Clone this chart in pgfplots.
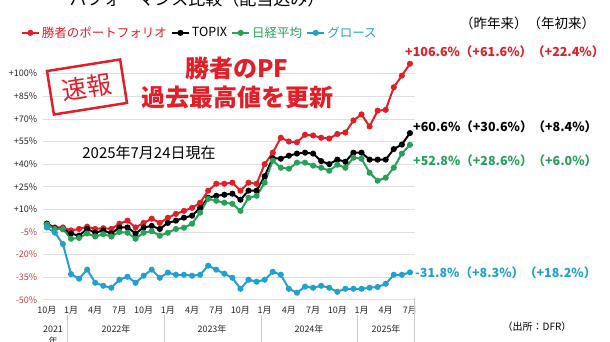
\documentclass[border=0pt]{standalone}
\usepackage{fontspec}
\setmainfont{Noto Sans CJK JP}
\usepackage{pgfplots}
\pgfplotsset{compat=1.18}
\usepackage{pgfplotstable}
\definecolor{pfred}{RGB}{226,30,40}
\definecolor{nkgreen}{RGB}{40,160,90}
\definecolor{grcyan}{RGB}{35,160,210}
\definecolor{negred}{RGB}{200,60,60}
\pgfplotstableread{
i R K G B
0 0.5 0.5 0 -2
1 -2 -2.5 -3 -5.5
2 -2 -3 -3 -13
3 -4 -6 -9.5 -33
4 -3 -7.5 -9 -36
5 -1.5 -3 -6 -30
6 -3 -5.5 -8 -38.7
7 -2.5 -4 -6.5 -40.7
8 -3 -6 -8 -42
9 0.5 -2 -5 -36.7
10 2.5 -2 -5.5 -34.7
11 -2 -6 -9.5 -38.7
12 1 -2 -5.5 -34
13 3.8 -1 -4.5 -30
14 1 -3 -7.5 -35.4
15 4.4 1 -5.5 -32
16 7 2.5 -3 -33.4
17 9 4.5 -2.2 -33.4
18 11 5.8 0.5 -34
19 14.4 11 7.8 -33.4
20 22.4 17.7 17 -27.4
21 27 19 15.7 -30
22 27 19.7 14.4 -32.7
23 27.7 20.4 13.7 -35.4
24 22.4 16.4 9 -42.7
25 27.7 22.4 17.7 -36.7
26 27 22.4 19 -38
27 40 32 27.7 -36.7
28 47.6 44 42.3 -31.4
29 57.5 43.6 37.6 -33.4
30 55 45.6 37 -42.7
31 54.5 47 41 -45.3
32 59.5 47.6 41 -41.3
33 59 47 39 -42
34 57.5 42 37.6 -40.7
35 57 40 35.6 -42
36 60 43 39.6 -44.7
37 61 41.6 37.6 -42.7
38 69 47.6 44.3 -42.7
39 73 47.6 43.6 -42.7
40 65 43 34.3 -42
41 75.5 43 29 -41.5
42 76 43 31 -39.4
43 91 50 37.6 -33.4
44 98.7 53 47 -33.4
45 106.6 60.6 52.8 -31.8
}\datatable
\begin{document}
\begin{tikzpicture}[x=1pt,y=1pt]
\useasboundingbox (0,0) rectangle (610,342);
\begin{axis}[
  at={(53,26)}, anchor=south west, scale only axis,
  width=372pt, height=247.2pt,
  xmin=-0.5, xmax=45.6, ymin=-52, ymax=112,
  axis line style={draw=none}, tick style={draw=none},
  ymajorgrids, grid style={gray!25, line width=0.8pt},
  ytick={-50,-35,-20,-5,10,25,40,55,70,85,100},
  yticklabels={\textcolor{negred}{-50\%},\textcolor{negred}{-35\%},\textcolor{negred}{-20\%},\textcolor{negred}{-5\%},+10\%,+25\%,+40\%,+55\%,+70\%,+85\%,+100\%},
  xtick={0,3,...,45},
  xticklabels={10月,1月,4月,7月,10月,1月,4月,7月,10月,1月,4月,7月,10月,1月,4月,7月},
  ticklabel style={font=\fontsize{9}{10}\selectfont, text=black!85},
  yticklabel style={xshift=-2pt},
  clip=false,
  legend style={at={(axis description cs:0.422,1.092)}, anchor=center, draw=none, fill=none,
    font=\fontsize{12.5}{13}\selectfont, /tikz/every even column/.append style={column sep=2pt}},
  legend columns=-1,
  every axis plot/.append style={line width=2pt, mark=*, mark size=2pt},
]
\addplot[pfred, mark options={fill=pfred}] table[x=i,y=R]{\datatable};
\addlegendentry{\textcolor{pfred}{勝者のポートフォリオ}}
\addplot[black, mark options={fill=black}] table[x=i,y=K]{\datatable};
\addlegendentry{TOPIX}
\addplot[nkgreen, mark options={fill=nkgreen}] table[x=i,y=G]{\datatable};
\addlegendentry{\textcolor{nkgreen}{日経平均}}
\addplot[grcyan, mark options={fill=grcyan}] table[x=i,y=B]{\datatable};
\addlegendentry{\textcolor{grcyan}{グロース}}
\end{axis}
% x axis category separators
\draw[gray!40, line width=0.6pt] (67.2,27) -- (67.2,0);
\draw[gray!40, line width=0.6pt] (164,27) -- (164,0);
\draw[gray!40, line width=0.6pt] (261,27) -- (261,0);
\draw[gray!40, line width=0.6pt] (357.7,27) -- (357.7,0);
\draw[gray!40, line width=0.6pt] (414,44) -- (414,0);
\begin{scope}[every node/.style={font=\fontsize{9}{10}\selectfont, text=black!85}]
\node at (53,13) {2021};
\node at (53,1) {年};
\node at (116,13) {2022年};
\node at (212,13) {2023年};
\node at (309,13) {2024年};
\node at (386,13) {2025年};
\end{scope}
% title (partly cut off at top)
\node[font=\fontsize{17}{17}\selectfont, anchor=base] at (197,336) {パフォーマンス比較（配当込み）};
\node[font=\fontsize{13.5}{14}\selectfont, anchor=west, inner sep=0] at (460,319) {（昨年来）（年初来）};
\node[pfred, font=\bfseries\fontsize{12.5}{13}\selectfont, anchor=west, inner sep=0] at (405,290) {+106.6\%（+61.6\%）（+22.4\%）};
\node[black, font=\bfseries\fontsize{12.5}{13}\selectfont, anchor=west, inner sep=0] at (413,215) {+60.6\%（+30.6\%）（+8.4\%）};
\node[nkgreen, font=\bfseries\fontsize{12.5}{13}\selectfont, anchor=west, inner sep=0] at (413,181) {+52.8\%（+28.6\%）（+6.0\%）};
\node[grcyan, font=\bfseries\fontsize{12.5}{13}\selectfont, anchor=west, inner sep=0] at (415,69) {-31.8\%（+8.3\%）（+18.2\%）};
\node[font=\fontsize{15}{15}\selectfont] at (149,189) {2025年7月24日現在};
\node[pfred, font=\bfseries\fontsize{24}{24}\selectfont] at (237,274) {勝者のPF};
\node[pfred, font=\bfseries\fontsize{24}{24}\selectfont] at (237,245) {過去最高値を更新};
\node[draw=pfred, line width=2.5pt, text=pfred, rotate=9, font=\fontsize{25}{25}\selectfont, minimum width=74pt, minimum height=44pt] at (87,255) {速報};
\node[font=\fontsize{10}{10}\selectfont] at (537,15) {（出所：DFR）};
\end{tikzpicture}
\end{document}
